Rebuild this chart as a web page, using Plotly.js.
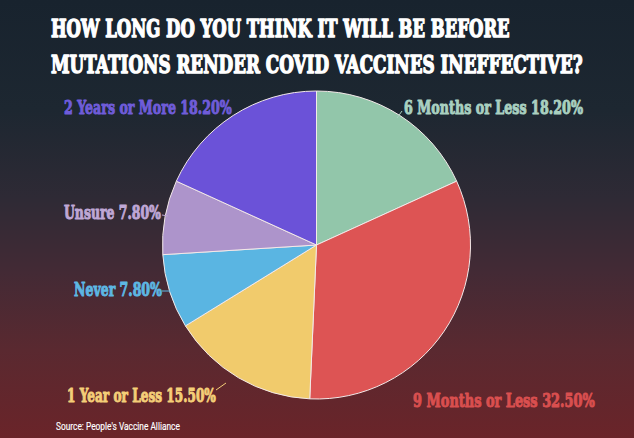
<!DOCTYPE html>
<html>
<head>
<meta charset="utf-8">
<script src="https://cdn.plot.ly/plotly-3.0.1.min.js"></script>
<style>
html,body{margin:0;padding:0;}
body{width:634px;height:438px;overflow:hidden;
background:linear-gradient(to bottom,#18232e 0%,#1d2731 25%,#2e2a35 45%,#432a35 62%,#5a2930 80%,#6a2429 100%);}
#chart{width:634px;height:438px;}
</style>
</head>
<body>
<div id="chart"></div>
<script>
// ---- data ----
const categories = ["6 Months or Less","9 Months or Less","1 Year or Less","Never","Unsure","2 Years or More"];
const values = [18.2, 32.5, 15.5, 7.8, 7.8, 18.2];
const sliceColors = ["#92c6aa","#dd5454","#f1cb6c","#5ab5e2","#ad94cb","#6b52d8"];
const labelColors = ["#a9d0c0","#d94f4f","#f4ce78","#5db7e3","#bfa7d5","#6f5cd9"];
const titleLines = ["HOW LONG DO YOU THINK IT WILL BE BEFORE","MUTATIONS RENDER COVID VACCINES INEFFECTIVE?"];
const sourceText = "Source: People's Vaccine Alliance";

// label placement (paper pixels, left anchored, caps centre)
const W = 634, H = 438;
const labelPos = [[402,105],[411,398],[65,393],[72,287],[62,210],[62,105]];
// rendered widths of the condensed texts (labels, title lines, source)
const textWidths = [179,182,149,88,97,168,459,532,124];
const strokeWidths = [1.0,1.0,1.0,1.0,1.0,1.0,1.5,1.5,0.15];

const slab = "DejaVu Serif, serif";

const annotations = categories.map((c,i)=>({
  text: "<b>" + c + " " + values[i].toFixed(2) + "%</b>",
  xref:"paper", yref:"paper",
  x: labelPos[i][0]/W, y: 1 - (labelPos[i][1]+2)/H,
  xanchor:"left", yanchor:"middle", align:"left", showarrow:false,
  font:{family:slab, size:18, color:labelColors[i], weight:"bold"}
}));
titleLines.forEach((t,i)=>annotations.push({
  text:"<b>" + t + "</b>", xref:"paper", yref:"paper",
  x:49/W, y:1-((i===0?26:62.5)+2)/H, xanchor:"left", yanchor:"middle", align:"left", showarrow:false,
  font:{family:slab, size:25, color:"#ffffff", weight:"bold"}
}));
annotations.push({
  text:sourceText, xref:"paper", yref:"paper",
  x:54/W, y:1-426/H, xanchor:"left", yanchor:"middle", align:"left", showarrow:false,
  font:{family:"Roboto, Liberation Sans, sans-serif", size:10, color:"#ffffff"}
});

const leader = (x0,y0,x1,y1,col)=>({type:"line",xref:"paper",yref:"paper",
  x0:x0/W,y0:1-y0/H,x1:x1/W,y1:1-y1/H,line:{color:col,width:1}});
const shapes = [
  leader(402,111,397,118,labelColors[0]),
  leader(162,215,168,216,labelColors[4]),
  leader(162,291,170,291,labelColors[3]),
  leader(216,390,226,383,labelColors[2])
];

const trace = {
  type:"pie",
  values: values,
  labels: categories,
  sort:false,
  direction:"clockwise",
  rotation:0,
  textinfo:"none",
  hoverinfo:"none",
  marker:{colors:sliceColors, line:{color:"#f3e9e9", width:1}},
  domain:{x:[162.5/W, 470.5/W], y:[1-399/H, 1-91/H]},
  showlegend:false
};

function condenseTexts(gd){
  const texts = gd.querySelectorAll(".annotation .annotation-text");
  texts.forEach((t,idx)=>{
    if(idx >= textWidths.length) return;
    t.removeAttribute("transform");
    const bb = t.getBBox();
    if(!bb.width) return;
    const f = textWidths[idx]/bb.width;
    t.setAttribute("transform",
      "translate(" + bb.x + ",0) scale(" + f.toFixed(4) + ",1) translate(" + (-bb.x) + ",0)");
    const col = getComputedStyle(t).fill;
    t.setAttribute("stroke", col);
    t.setAttribute("stroke-width", strokeWidths[idx]);
    t.setAttribute("stroke-linejoin", "round");
    t.style.stroke = col;
    t.style.strokeWidth = strokeWidths[idx] + "px";
  });
}

Plotly.newPlot("chart",[trace],{
  width:W, height:H,
  margin:{l:0,r:0,t:0,b:0},
  paper_bgcolor:"rgba(0,0,0,0)",
  plot_bgcolor:"rgba(0,0,0,0)",
  showlegend:false,
  annotations: annotations,
  shapes: shapes
},{staticPlot:true}).then(gd=>{
  condenseTexts(gd);
});
</script>
</body>
</html>
